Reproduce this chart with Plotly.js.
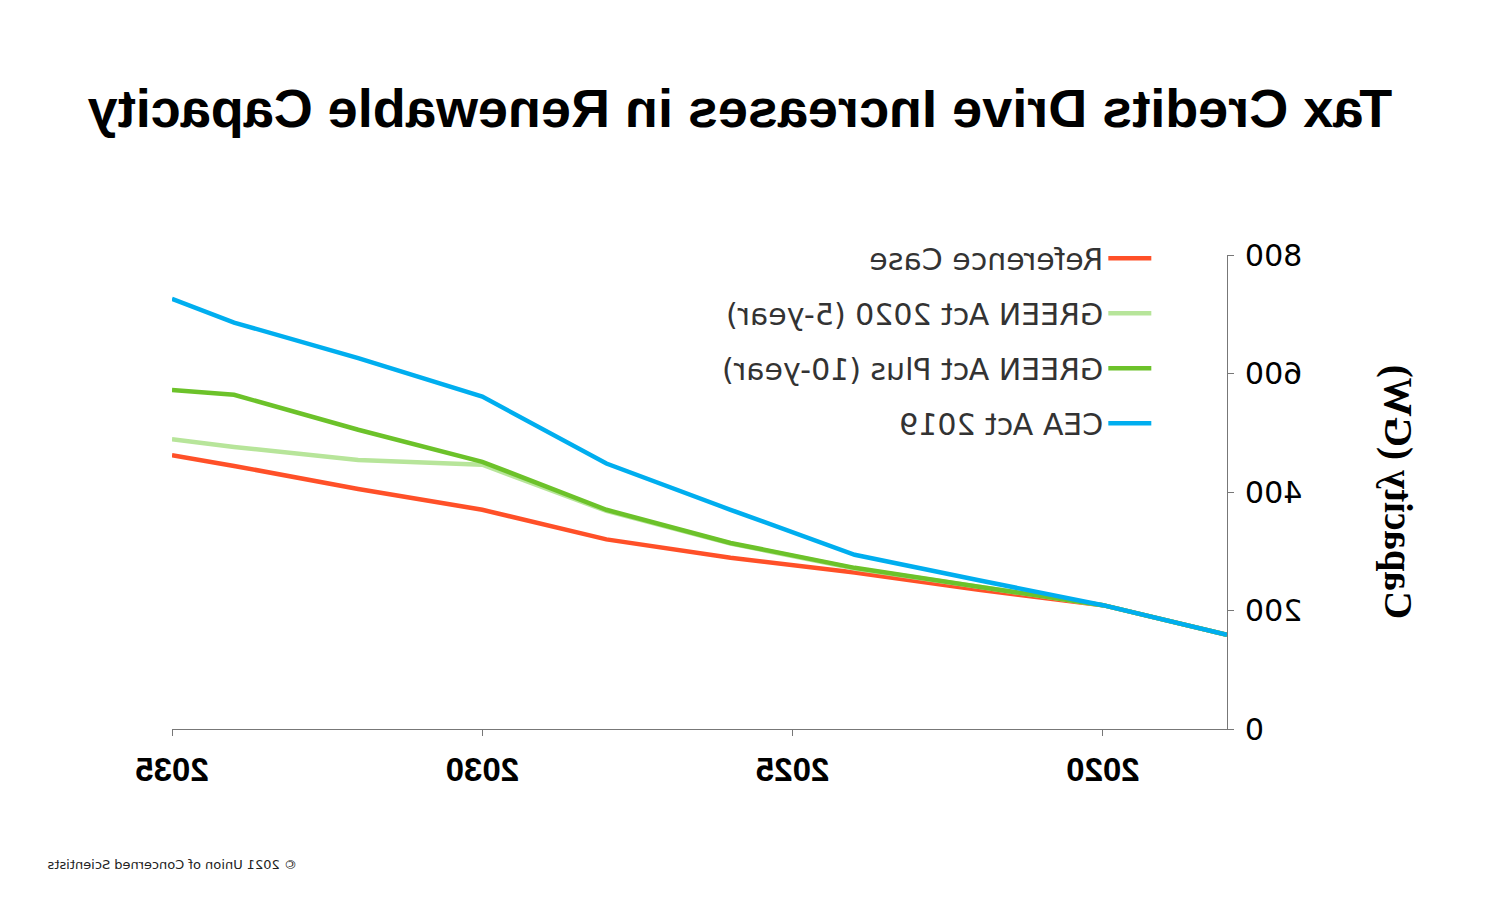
<!DOCTYPE html>
<html>
<head>
<meta charset="utf-8">
<script src="https://cdn.plot.ly/plotly-3.0.1.min.js"></script>
<style>
  html, body { margin: 0; padding: 0; background: #fff; }
  #chart { width: 1501px; height: 901px; transform: scaleX(-1); }
</style>
</head>
<body>
<div id="chart"></div>
<script>
// Data (GW)
const years = [2018, 2020, 2022, 2024, 2026, 2028, 2030, 2032, 2034, 2035];
const referenceCase = [159, 209, 235, 264, 289, 320, 370, 405, 444, 462];
const green5yr      = [159, 209, 240, 271, 313, 368, 446, 454, 476, 489];
const greenPlus10yr = [159, 209, 240, 272, 314, 370, 451, 505, 564, 572];
const cea2019       = [159, 209, 251, 294, 370, 448, 561, 626, 686, 726];

const seriesNames = ["Reference Case", "GREEN Act 2020 (5-year)", "GREEN Act Plus (10-year)", "CEA Act 2019"];
const seriesColors = ["#ff5028", "#b7e59a", "#6cc22a", "#00aeef"];
const seriesValues = [referenceCase, green5yr, greenPlus10yr, cea2019];

const xTicks = [2020, 2025, 2030, 2035];
const yTicks = [0, 200, 400, 600, 800];

const traces = seriesValues.map((vals, i) => ({
  type: "scatter",
  mode: "lines",
  x: years,
  y: vals,
  name: seriesNames[i],
  legendgroup: "g" + i,
  line: { color: seriesColors[i], width: 4.5 },
  hoverinfo: "x+y+name"
}));

const layout = {
  width: 1501,
  height: 901,
  paper_bgcolor: "#ffffff",
  plot_bgcolor: "#ffffff",
  margin: { l: 274, r: 172, t: 255, b: 172 },
  title: {
    text: "Tax Credits Drive Increases in Renewable Capacity",
    font: { family: "Liberation Sans, Arial, sans-serif", size: 54, color: "#000", weight: 700 },
    x: 0.507, xref: "container", xanchor: "center",
    y: 0.88, yref: "container", yanchor: "middle"
  },
  xaxis: {
    range: [2018, 2035],
    tickvals: xTicks,
    ticktext: xTicks.map(String),
    ticks: "outside",
    ticklen: 6,
    tickcolor: "#777",
    ticklabelstandoff: 5,
    showline: true,
    linecolor: "#777",
    linewidth: 1,
    showgrid: false,
    zeroline: false,
    tickfont: { family: "Liberation Sans, Arial, sans-serif", size: 33, color: "#000", weight: 700 }
  },
  yaxis: {
    range: [0, 800],
    tickvals: yTicks,
    ticktext: yTicks.map(String),
    ticks: "outside",
    ticklen: 6,
    tickcolor: "#777",
    ticklabelstandoff: 5,
    showline: true,
    linecolor: "#777",
    linewidth: 1,
    showgrid: false,
    zeroline: false,
    tickfont: { family: "DejaVu Sans, sans-serif", size: 30, color: "#000" },
    title: {
      text: "Capacity (GW)",
      font: { family: "Liberation Serif, serif", size: 39, color: "#000", weight: 700 },
      standoff: 70
    }
  },
  showlegend: true,
  legend: {
    x: 0.067, xanchor: "left",
    y: 1.048, yanchor: "top",
    traceorder: "grouped",
    tracegroupgap: 13,
    itemwidth: 43,
    font: { family: "DejaVu Sans, sans-serif", size: 30, color: "#333" },
    bgcolor: "rgba(0,0,0,0)"
  },
  annotations: [{
    text: "© 2021 Union of Concerned Scientists",
    xref: "paper", yref: "paper",
    x: 1.12, y: -0.285,
    xanchor: "right", yanchor: "middle",
    showarrow: false,
    font: { family: "DejaVu Sans, sans-serif", size: 13, color: "#222" }
  }]
};

Plotly.newPlot("chart", traces, layout, { displayModeBar: false, staticPlot: true });
</script>
</body>
</html>
